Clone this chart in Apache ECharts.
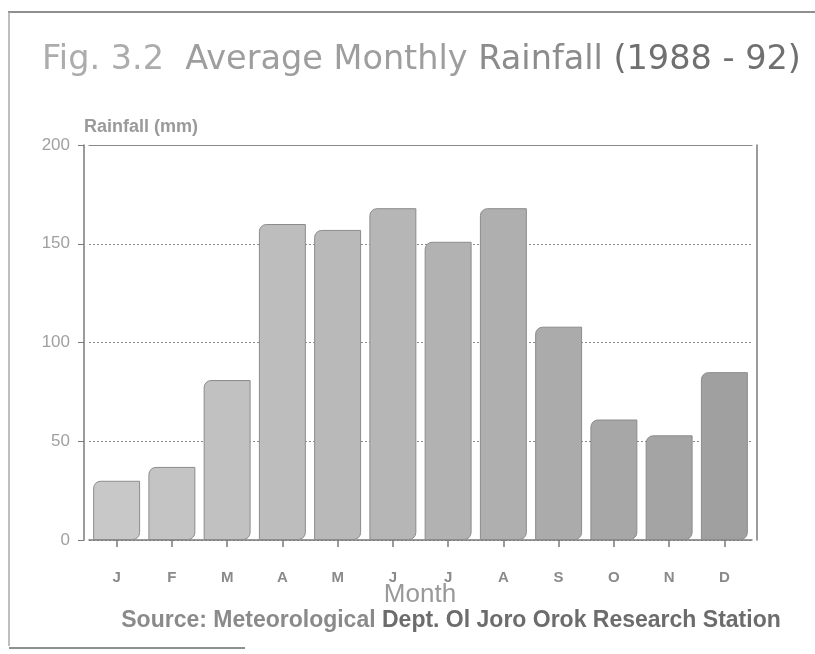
<!DOCTYPE html>
<html>
<head>
<meta charset="utf-8">
<script src="https://cdn.jsdelivr.net/npm/echarts@6/dist/echarts.min.js"></script>
<style>
html,body{margin:0;padding:0;background:#fff;}
#c{width:815px;height:654px;}
</style>
</head>
<body>
<div id="c"></div>
<script>
const months = ['J','F','M','A','M','J','J','A','S','O','N','D'];
const rainfall = [30, 37, 81, 160, 157, 168, 151, 168, 108, 61, 53, 85];
const yTicks = [0, 50, 100, 150, 200];
const titleParts = ['Fig. 3.2', 'Average Monthly', 'Rainfall', '(1988 - 92)'];
const yAxisName = 'Rainfall (mm)';
const xAxisName = 'Month';
const sourceParts = ['Source: Meteorological', 'Dept. Ol Joro Orok Research Station'];

const SANS = 'Liberation Sans, Arial, sans-serif';
const WIDE = 'DejaVu Sans, sans-serif';

function grey(i, n, a, b) {
  const t = n > 1 ? i / (n - 1) : 0;
  const v = Math.round(a + (b - a) * t);
  return 'rgb(' + v + ',' + v + ',' + v + ')';
}

const chart = echarts.init(document.getElementById('c'), null, {renderer: 'canvas'});
chart.setOption({
  backgroundColor: '#ffffff',
  animation: false,
  title: {
    left: 37,
    top: 38,
    text: '{a|' + titleParts[0] + '}  {b|' + titleParts[1] + '} {c|' + titleParts[2] + '} {d|' + titleParts[3] + '}',
    textStyle: {
      fontFamily: WIDE,
      fontSize: 33.5,
      fontWeight: 'normal',
      rich: {
        a: {fontSize: 33.5, color: '#acacac', fontFamily: WIDE},
        b: {fontSize: 33.5, color: '#9e9e9e', fontFamily: WIDE},
        c: {fontSize: 33.5, color: '#8c8c8c', fontFamily: WIDE},
        d: {fontSize: 33.5, color: '#707070', fontFamily: WIDE}
      }
    }
  },
  grid: {
    left: 89, right: 63, top: 145, bottom: 114,
    show: false
  },
  xAxis: [{
    type: 'category',
    data: months,
    axisLine: {lineStyle: {color: '#7a7a7a', width: 1.5}},
    axisTick: {show: true, alignWithLabel: true, length: 7, lineStyle: {color: '#7a7a7a', width: 1.5}},
    axisLabel: {color: '#8a8a8a', fontSize: 15, fontWeight: 'bold', margin: 30, fontFamily: SANS}
  }, {
    type: 'category',
    position: 'top',
    data: months,
    axisLine: {show: true, onZero: false, lineStyle: {color: '#8a8a8a', width: 1.2}},
    axisTick: {show: false},
    axisLabel: {show: false}
  }],
  yAxis: [{
    type: 'value',
    min: yTicks[0],
    max: yTicks[yTicks.length - 1],
    interval: yTicks[1] - yTicks[0],
    offset: 5,
    name: yAxisName,
    nameLocation: 'end',
    nameGap: 9,
    nameTextStyle: {color: '#9a9a9a', fontSize: 18, fontWeight: 'bold', align: 'left', padding: [0, 0, 0, 0], fontFamily: SANS},
    axisLine: {show: true, lineStyle: {color: '#7a7a7a', width: 1.5}},
    axisTick: {show: true, length: 6, lineStyle: {color: '#7a7a7a'}},
    axisLabel: {color: '#a0a0a0', fontSize: 17, margin: 14, fontFamily: SANS},
    splitLine: {show: true, lineStyle: {color: '#8a8a8a', type: [2, 2], width: 1}}
  }, {
    type: 'value',
    position: 'right',
    min: yTicks[0],
    max: yTicks[yTicks.length - 1],
    interval: yTicks[1] - yTicks[0],
    offset: 5,
    axisLine: {show: true, lineStyle: {color: '#7a7a7a', width: 1.5}},
    axisTick: {show: false},
    axisLabel: {show: false},
    splitLine: {show: false}
  }],
  series: [{
    type: 'bar',
    data: rainfall,
    barCategoryGap: '15%',
    itemStyle: {
      color: function (p) { return grey(p.dataIndex, months.length, 200, 160); },
      borderColor: '#8c8c8c',
      borderWidth: 1,
      borderRadius: [7, 0, 7, 0]
    }
  }],
  graphic: [
    {type: 'line', shape: {x1: 8, y1: 12, x2: 815, y2: 12}, style: {stroke: '#8f8f8f', lineWidth: 2}},
    {type: 'line', shape: {x1: 9, y1: 12, x2: 9, y2: 646}, style: {stroke: '#a8a8a8', lineWidth: 1.5}},
    {type: 'line', shape: {x1: 9, y1: 648, x2: 245, y2: 648}, style: {stroke: '#8f8f8f', lineWidth: 2}},
    {type: 'text', x: 420, y: 595, style: {
      text: xAxisName, textAlign: 'center', textVerticalAlign: 'middle',
      fill: '#999999', fontSize: 26, fontFamily: SANS
    }},
    {type: 'text', x: 451, y: 621, style: {
      text: '{p|' + sourceParts[0] + '} {q|' + sourceParts[1] + '}',
      textAlign: 'center', textVerticalAlign: 'middle',
      fontSize: 23, fontWeight: 'bold', fontFamily: SANS,
      rich: {
        p: {fill: '#8a8a8a', color: '#8a8a8a', fontSize: 23, fontWeight: 'bold', fontFamily: SANS},
        q: {fill: '#6c6c6c', color: '#6c6c6c', fontSize: 23, fontWeight: 'bold', fontFamily: SANS}
      }
    }}
  ]
});
</script>
</body>
</html>
